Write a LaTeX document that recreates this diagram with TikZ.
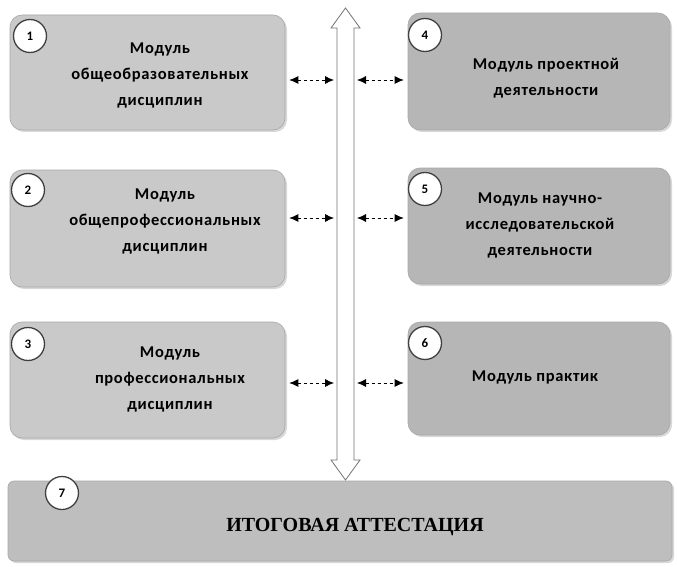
\documentclass[tikz,border=0pt]{standalone}
\usepackage{fontspec}
\setmainfont{Carlito}
\newfontfamily\modfont[LetterSpace=4]{Carlito}
\newfontfamily\serifbold{Liberation Serif}
\usetikzlibrary{arrows.meta,shadows}
\definecolor{boxL}{HTML}{C9C9C9}
\definecolor{boxR}{HTML}{B6B6B6}
\definecolor{boxF}{HTML}{BEBEBE}
\definecolor{edgeG}{HTML}{A8A8A8}
\tikzset{
  modbox/.style={draw=edgeG, line width=0.6pt, rounded corners=12pt, inner sep=0pt,
     drop shadow={shadow xshift=2pt, shadow yshift=-2pt, fill=black!25, opacity=0.6}},
  numcirc/.style={circle, draw=black!75, line width=1.3pt, fill=white, minimum size=33pt, inner sep=0pt, font=\bfseries\fontsize{13}{13}\selectfont},
  modtext/.style={align=center, font=\modfont\bfseries\fontsize{16.5}{26}\selectfont},
  link/.style={dash pattern=on 3pt off 3pt, line width=0.8pt, {Latex[length=9pt,width=8pt]}-{Latex[length=9pt,width=8pt]}}
}
\begin{document}
\begin{tikzpicture}[x=1pt,y=-1pt]
\useasboundingbox[fill=white] (0,0) rectangle (677,567);
% boxes
\node[modbox, fill=boxL, minimum width=275pt, minimum height=115pt] (b1) at (147.5,72.5) {};
\node[modbox, fill=boxL, minimum width=275pt, minimum height=117pt] (b2) at (147.5,228.5) {};
\node[modbox, fill=boxL, minimum width=275pt, minimum height=116pt] (b3) at (147.5,380) {};
\node[modbox, fill=boxR, minimum width=262pt, minimum height=117pt] (b4) at (539,71.5) {};
\node[modbox, fill=boxR, minimum width=262pt, minimum height=116pt] (b5) at (539,226) {};
\node[modbox, fill=boxR, minimum width=262pt, minimum height=113pt] (b6) at (539,378.5) {};
\node[modbox, fill=boxF, rounded corners=6pt, minimum width=664pt, minimum height=80pt] (b7) at (340,521) {};
% texts
\node[modtext] (t1) at (160,75) {Модуль\\общеобразовательных\\дисциплин};
\node[modtext] (t2) at (165,221) {Модуль\\общепрофессиональных\\дисциплин};
\node[modtext] (t3) at (170,379) {Модуль\\профессиональных\\дисциплин};
\node[modtext] (t4) at (546,78) {Модуль проектной\\деятельности};
\node[modtext] (t5) at (540,225) {Модуль научно-\\исследовательской\\деятельности};
\node[modtext] (t6) at (535,377) {Модуль практик};
\node[font=\serifbold\bfseries\fontsize{20}{20}\selectfont] (t7) at (355,527) {ИТОГОВАЯ АТТЕСТАЦИЯ};
% number circles
\node[numcirc] (n1) at (30,36) {1};
\node[numcirc] (n2) at (28,190) {2};
\node[numcirc] (n3) at (28,344) {3};
\node[numcirc] (n4) at (425,35) {4};
\node[numcirc] (n5) at (425,189) {5};
\node[numcirc] (n6) at (425,343) {6};
\node[numcirc] (n7) at (62,493) {7};
% central bus arrow
\coordinate (busTop) at (345.5,8);
\coordinate (busBot) at (345.5,480);
\draw[draw=black!55, fill=white, line width=0.8pt]
  (busTop) -- (360,28) -- (354,28) -- (354,460) -- (360,460) -- (busBot)
  -- (331,460) -- (337,460) -- (337,28) -- (331,28) -- cycle;
% link anchor coordinates on the bus
\coordinate (L1) at (334,80);  \coordinate (R1) at (357,80);
\coordinate (L2) at (334,218); \coordinate (R2) at (357,218);
\coordinate (L3) at (334,383); \coordinate (R3) at (357,383);
\draw[link] (b1.east |- L1) ++(4,0) -- (L1);
\draw[link] (b2.east |- L2) ++(4,0) -- (L2);
\draw[link] (b3.east |- L3) ++(4,0) -- (L3);
\draw[link] (R1) -- ([xshift=-4pt]b4.west |- R1);
\draw[link] (R2) -- ([xshift=-4pt]b5.west |- R2);
\draw[link] (R3) -- ([xshift=-4pt]b6.west |- R3);
\end{tikzpicture}
\end{document}
